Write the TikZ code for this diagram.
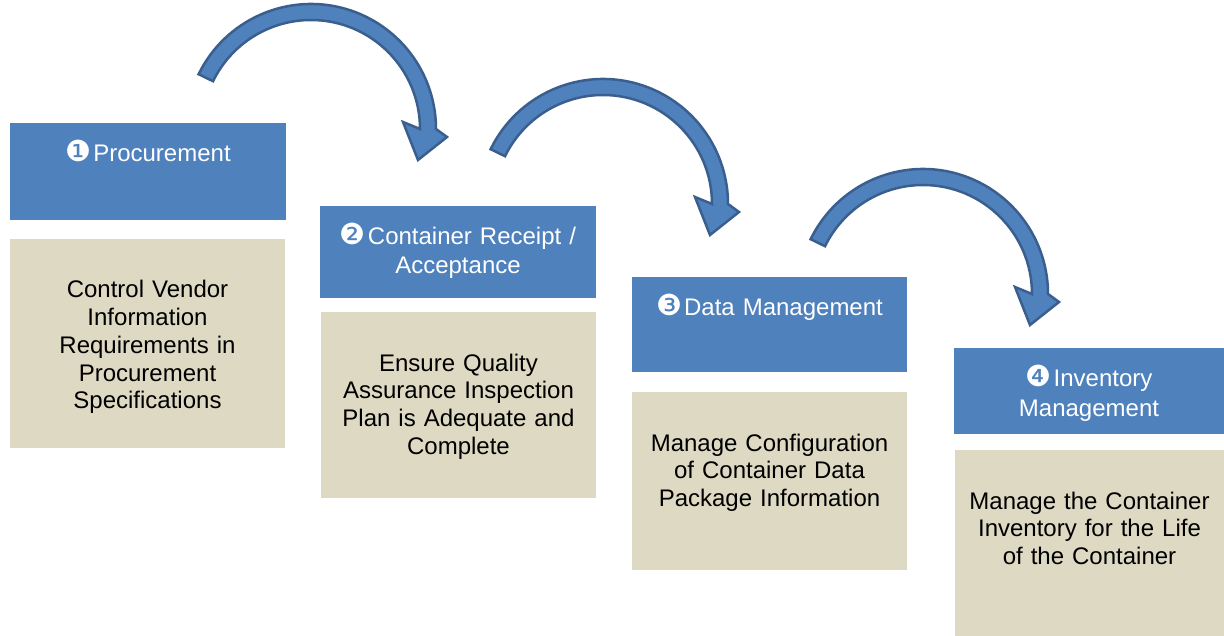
\documentclass[tikz,border=0pt]{standalone}
\usepackage{fontspec}
\setmainfont{Liberation Sans}
\newfontfamily\dvfont{DejaVu Sans}
\usetikzlibrary{calc}
\definecolor{hblue}{HTML}{4F81BD}
\definecolor{tanbg}{HTML}{DDD9C3}
\definecolor{arrline}{HTML}{3A5F8E}
\newcommand{\circnum}[1]{{\dvfont\fontsize{29}{29}\selectfont #1}\hspace{2pt}}
\begin{document}
\begin{tikzpicture}[x=1pt,y=-1pt,
  hdrbox/.style={fill=hblue, draw=none, anchor=north west, inner sep=0pt, outer sep=0pt},
  bodybox/.style={fill=tanbg, draw=none, anchor=north west, inner sep=0pt, outer sep=0pt},
  hdrtxt/.style={text=white, font=\fontsize{24}{29}\selectfont, align=center, text width=270pt, inner sep=0pt, anchor=base},
  bodytxt/.style={text=black, font=\fontsize{24}{27.7}\selectfont, align=center, text width=270pt, inner sep=0pt, anchor=base},
  flowarrow/.style={fill=hblue, draw=arrline, line width=2.5pt, line join=miter}]
\fill[white] (0,0) rectangle (1224,636);
\path[use as bounding box] (0,0) rectangle (1224,636);

% boxes
\node[hdrbox, minimum width=276pt, minimum height=97pt] (h1) at (10,123) {};
\node[bodybox, minimum width=275pt, minimum height=209pt] (b1) at (10,239) {};
\node[hdrbox, minimum width=276pt, minimum height=92pt] (h2) at (320,206) {};
\node[bodybox, minimum width=275pt, minimum height=186pt] (b2) at (321,312) {};
\node[hdrbox, minimum width=275pt, minimum height=95pt] (h3) at (632,277) {};
\node[bodybox, minimum width=275pt, minimum height=178pt] (b3) at (632,392) {};
\node[hdrbox, minimum width=270pt, minimum height=86pt] (h4) at (954,348) {};
\node[bodybox, minimum width=269pt, minimum height=186pt] (b4) at (955,450) {};

% header texts
\node[hdrtxt] (t1) at ($(h1.north)+(0,39)$) {\circnum{❶}Procurement};
\node[hdrtxt] (t2) at ($(h2.north)+(0,39)$) {\circnum{❷}Container Receipt /\\Acceptance};
\node[hdrtxt] (t3) at ($(h3.north)+(0,39)$) {\circnum{❸}Data Management};
\node[hdrtxt] (t4) at ($(h4.north)+(0,39)$) {\circnum{❹}Inventory\\Management};

% body texts
\node[bodytxt] (d1) at ($(b1.north)+(0,59)$) {Control Vendor\\Information\\Requirements in\\Procurement\\Specifications};
\node[bodytxt] (d2) at ($(b2.north)+(0,59)$) {Ensure Quality\\Assurance Inspection\\Plan is Adequate and\\Complete};
\node[bodytxt] (d3) at ($(b3.north)+(0,59)$) {Manage Configuration\\of Container Data\\Package Information};
\node[bodytxt] (d4) at ($(b4.north)+(0,59)$) {Manage the Container\\Inventory for the Life\\of the Container};

% curved arrows
\foreach \dx/\dy in {0/0, 292/75, 612/165}{
  \begin{scope}[shift={(\dx,\dy)}]
    \coordinate (ac) at (311,129);
    \draw[flowarrow] ($(ac)+(206:125)$) arc[start angle=206, end angle=360, radius=125]
      -- (447,137) -- (418,160) -- (403,122) -- (420,129)
      arc[start angle=360, end angle=206, radius=109] -- cycle;
  \end{scope}
}
\end{tikzpicture}
\end{document}
